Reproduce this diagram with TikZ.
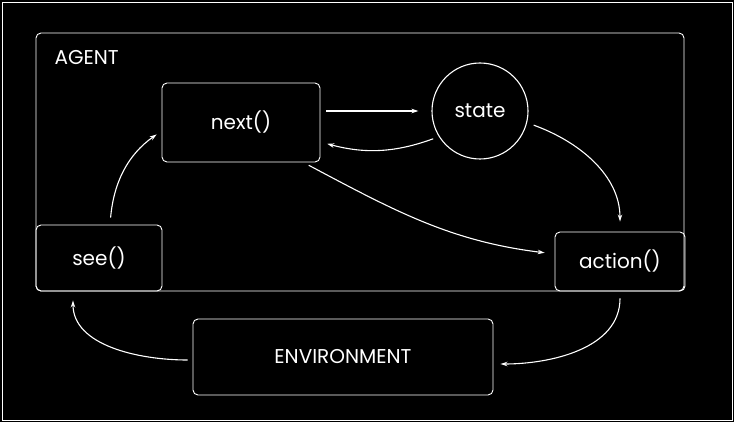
\documentclass[tikz,border=0pt]{standalone}
\usepackage{fontspec}
\setmainfont{Poppins}
\usetikzlibrary{arrows.meta}
\tikzset{
  txt/.style={font=\fontsize{20}{24}\selectfont,text=white},
  blk/.style={txt,draw=white,line width=0.9pt,rounded corners=5pt,inner sep=0pt},
  circ/.style={txt,draw=white,line width=1.1pt,circle,inner sep=0pt,minimum size=96pt},
  arw/.style={draw=white,line width=1.1pt,-{Stealth[length=7pt,width=4.5pt]}},
}
\begin{document}
\begin{tikzpicture}[x=1pt,y=-1pt]
  \fill[black] (0,0) rectangle (734,422);
  \draw[white,line width=0.8pt] (2,2) rectangle (732,420);
  \node[blk,minimum width=648pt,minimum height=258pt] (agent) at (360,162) {};
  \node[txt,anchor=base west] (agentlbl) at (51,65) {AGENT};
  \node[blk,minimum width=158pt,minimum height=79pt] (next) at (241,122.5) {next()};
  \node[circ] (state) at (480,111) {state};
  \node[blk,minimum width=126pt,minimum height=66pt] (see) at (99,258) {see()};
  \node[blk,minimum width=130pt,minimum height=59pt] (action) at (620,261.5) {action()};
  \node[blk,minimum width=300pt,minimum height=76pt] (env) at (343,357) {ENVIRONMENT};
  \draw[arw,shorten <=6pt,shorten >=13pt] (next.east |- state.west) -- (state.west);
  \draw[arw,shorten <=6pt,shorten >=7pt] (state.212) to[out=200,in=-15] ([yshift=-19.5pt]next.east);
  \draw[arw,shorten <=7pt,shorten >=10pt] (state.-14) to[out=-20,in=90] (action.north);
  \draw[arw,shorten <=6pt,shorten >=10pt] ([xshift=-17pt]next.south east) to[out=-28,in=173] ([yshift=7.5pt]action.west);
  \draw[arw,shorten <=7pt,shorten >=6pt] ([xshift=11pt]see.north) to[out=85,in=215] ([yshift=-8.5pt]next.west);
  \draw[arw,shorten <=7pt,shorten >=7pt] (action.south) to[out=-90,in=0] ([yshift=-7pt]env.east);
  \draw[arw,shorten <=5pt,shorten >=9pt] ([yshift=-3pt]env.west) to[out=180,in=-90] ([xshift=-26pt]see.south);
\end{tikzpicture}
\end{document}
